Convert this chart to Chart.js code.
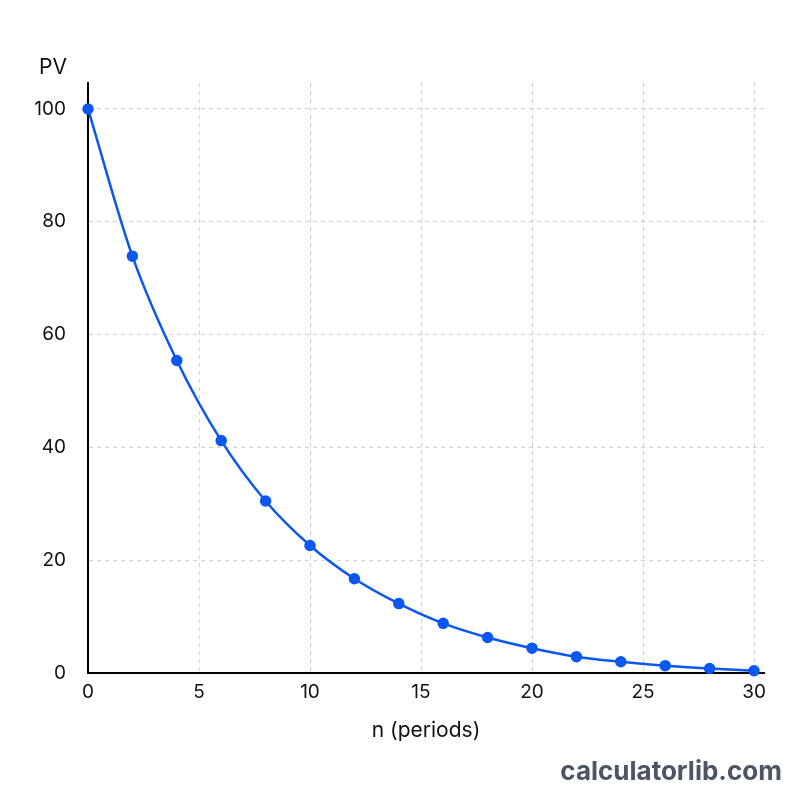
<!DOCTYPE html>
<html>
<head>
<meta charset="utf-8">
<script src="https://cdn.jsdelivr.net/npm/chart.js@4/dist/chart.umd.min.js"></script>
<style>
  html, body { margin: 0; padding: 0; background: #fff; }
  #wrap { width: 800px; height: 800px; }
</style>
</head>
<body>
<div id="wrap"><canvas id="pvChart" width="800" height="800"></canvas></div>
<script>
// periods and present values
const periods = [0, 2, 4, 6, 8, 10, 12, 14, 16, 18, 20, 22, 24, 26, 28, 30];
const pvValues = [100, 73.9, 55.4, 41.2, 30.5, 22.6, 16.7, 12.3, 8.8, 6.3, 4.4, 2.9, 2.0, 1.3, 0.8, 0.4];
const xTitle = 'n (periods)';
const yTitle = 'PV';
const watermark = 'calculatorlib.com';

const FONT = 'Inter, "Noto Sans", sans-serif';

// draws the "PV" label above the y axis and the site name
const extraText = {
    id: 'extraText',
    afterDraw(chart) {
        let ctx = chart.ctx;
        ctx.save();
        ctx.fillStyle = '#111';
        ctx.font = '21px ' + FONT;
        ctx.textAlign = 'center';
        ctx.textBaseline = 'middle';
        ctx.fillText(yTitle, 53, chart.chartArea.top - 15);

        ctx.fillStyle = '#4b5563';
        ctx.font = 'bold 26px ' + FONT;
        ctx.textAlign = 'right';
        ctx.fillText(watermark, 782, 772);
        ctx.restore();
    }
};

let ctx = document.getElementById('pvChart').getContext('2d');

let pvChart = new Chart(ctx, {
    type: 'line',
    data: {
        datasets: [{
            data: periods.map((n, i) => ({ x: n, y: pvValues[i] })),
            borderColor: '#0b57f0',
            backgroundColor: '#0b57f0',
            borderWidth: 2.5,
            pointRadius: 4.5,
            pointHoverRadius: 4.5,
            cubicInterpolationMode: 'monotone',
            clip: false,
        }],
    },
    options: {
        responsive: false,
        animation: false,
        layout: {
            padding: { top: 83, right: 36, bottom: 53, left: 0 },
        },
        plugins: {
            legend: { display: false },
            tooltip: { enabled: false },
        },
        scales: {
            x: {
                type: 'linear',
                min: 0,
                max: 30.45,
                ticks: {
                    stepSize: 5,
                    includeBounds: false,
                    color: '#111',
                    font: { size: 19, family: FONT },
                    padding: 8,
                },
                grid: {
                    color: '#d0d0d0',
                    drawTicks: false,
                },
                border: {
                    color: '#000',
                    width: 2,
                    dash: [4, 4],
                },
                title: {
                    display: true,
                    text: xTitle,
                    color: '#111',
                    font: { size: 21, family: FONT },
                    padding: { top: 6 },
                },
            },
            y: {
                min: 0,
                max: 104.6,
                afterFit(scale) { scale.width = 88; },
                ticks: {
                    stepSize: 20,
                    includeBounds: false,
                    color: '#111',
                    font: { size: 19, family: FONT },
                    padding: 22,
                },
                grid: {
                    color: '#d0d0d0',
                    drawTicks: false,
                },
                border: {
                    color: '#000',
                    width: 2,
                    dash: [4, 4],
                },
            },
        },
    },
    plugins: [extraText],
});
</script>
</body>
</html>
